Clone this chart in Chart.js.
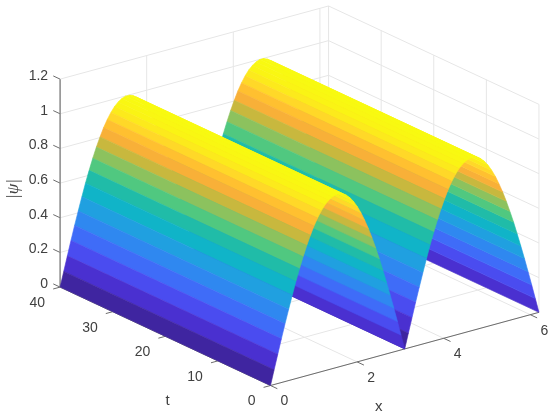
<!DOCTYPE html>
<html>
<head>
<meta charset="utf-8">
<title>Surface</title>
<script src="https://cdn.jsdelivr.net/npm/chart.js@4"></script>
<style>
  html, body { margin: 0; padding: 0; background: #fff; }
  #wrap { width: 550px; height: 419px; }
  canvas { display: block; }
</style>
</head>
<body>
<div id="wrap"><canvas id="chart"></canvas></div>
<script>
const xValues = [0, 0.084, 0.168, 0.251, 0.335, 0.419, 0.503, 0.586, 0.67, 0.754, 0.838, 0.922, 1.005, 1.089, 1.173, 1.257,
  1.341, 1.424, 1.508, 1.592, 1.676, 1.759, 1.843, 1.927, 2.011, 2.095, 2.178, 2.262, 2.346, 2.43, 2.514, 2.597,
  2.681, 2.765, 2.849, 2.932, 3.016, 3.1,
  3.184, 3.268, 3.351, 3.435, 3.519, 3.603, 3.686, 3.77, 3.854, 3.938, 4.022, 4.105, 4.189, 4.273, 4.357, 4.441,
  4.524, 4.608, 4.692, 4.776, 4.859, 4.943, 5.027, 5.111, 5.195, 5.278, 5.362, 5.446, 5.53, 5.614, 5.697, 5.781,
  5.865, 5.949, 6.033, 6.116, 6.2];
const psiValues = [0, 0.085, 0.169, 0.252, 0.333, 0.411, 0.487, 0.56, 0.628, 0.692, 0.751, 0.804, 0.852, 0.893, 0.928, 0.956,
  0.977, 0.991, 0.999, 0.999, 0.991, 0.977, 0.956, 0.928, 0.893, 0.852, 0.804, 0.751, 0.692, 0.628, 0.56, 0.487,
  0.411, 0.333, 0.252, 0.169, 0.085, 0,
  0.085, 0.169, 0.252, 0.333, 0.411, 0.487, 0.56, 0.628, 0.692, 0.751, 0.804, 0.852, 0.893, 0.928, 0.956, 0.977,
  0.991, 0.999, 0.999, 0.991, 0.977, 0.956, 0.928, 0.893, 0.852, 0.804, 0.751, 0.692, 0.628, 0.56, 0.487, 0.411,
  0.333, 0.252, 0.169, 0.085, 0];
const tRange = [0, 40];
const xMax = 6.2;
const xTicks = [0, 2, 4, 6];
const tTicks = [0, 10, 20, 30, 40];
const zTicks = [0, 0.2, 0.4, 0.6, 0.8, 1, 1.2];

// colour levels of the surface
const levels = [0, 0.085, 0.169, 0.252, 0.333, 0.411, 0.487, 0.56, 0.628, 0.692, 0.751, 0.804, 0.852, 0.893, 0.928, 0.956, 1];
const levelColors = [[63,37,160], [74,48,208], [74,76,240], [63,108,248], [47,136,240], [32,160,224],
  [16,180,200], [32,188,168], [80,200,128], [140,194,94], [200,184,62], [248,176,56], [255,192,48],
  [255,216,40], [252,234,28], [250,244,20], [248,250,16]];

function colorFor(v) {
  let i = 0;
  while (i < levels.length - 2 && v > levels[i + 1]) i++;
  const f = Math.min(1, (v - levels[i]) / (levels[i + 1] - levels[i]));
  const c = levelColors[i].map((a, k) => Math.round(a + (levelColors[i + 1][k] - a) * f));
  return `rgb(${c[0]},${c[1]},${c[2]})`;
}

// view of the 3d box: front corner plus one step per unit of x, t and z
function project(x, t, z) {
  return {
    x: 270.5 + 43.3 * x - 5.26 * t,
    y: 385.5 - 11.8 * x - 2.46 * t - 173.3 * z
  };
}

function seg(a, b, color, width) {
  return {
    data: [project(...a), project(...b)],
    showLine: true,
    fill: false,
    borderColor: color,
    borderWidth: width
  };
}

const datasets = [];

// nearest strip first: chart.js paints the first dataset on top
for (let i = 0; i < xValues.length - 1; i++) {
  const c = colorFor(psiValues[i]);
  const [t0, t1] = tRange;
  datasets.push({
    data: [
      project(xValues[i], t0, psiValues[i]),
      project(xValues[i + 1], t0, psiValues[i + 1]),
      project(xValues[i + 1], t1, psiValues[i + 1]),
      project(xValues[i], t1, psiValues[i]),
      project(xValues[i], t0, psiValues[i])
    ],
    showLine: true,
    fill: 'shape',
    backgroundColor: c,
    borderColor: c,
    borderWidth: 0.6
  });
}

// axis rulers and tick marks
const axisColor = '#6c6c6c';
datasets.push(seg([0, 0, 0], [xMax, 0, 0], axisColor, 1));
datasets.push(seg([0, 0, 0], [0, 40, 0], axisColor, 1));
datasets.push(seg([0, 40, 0], [0, 40, 1.2], '#858585', 1.4));
xTicks.forEach(v => datasets.push(seg([v, 0, 0], [v, -1.3, 0], axisColor, 1)));
tTicks.forEach(v => datasets.push(seg([0, v, 0], [-0.16, v, 0], axisColor, 1)));
zTicks.forEach(v => datasets.push(seg([0, 40, v], [0, 41.3, v], axisColor, 1)));

// grid on the floor and the two back walls
const gridColor = '#e6e6e6';
xTicks.forEach(v => {
  datasets.push(seg([v, 0, 0], [v, 40, 0], gridColor, 1));
  datasets.push(seg([v, 40, 0], [v, 40, 1.2], gridColor, 1));
});
tTicks.forEach(v => {
  datasets.push(seg([0, v, 0], [xMax, v, 0], gridColor, 1));
  datasets.push(seg([xMax, v, 0], [xMax, v, 1.2], gridColor, 1));
});
zTicks.forEach(v => {
  datasets.push(seg([0, 40, v], [xMax, 40, v], gridColor, 1));
  datasets.push(seg([xMax, 0, v], [xMax, 40, v], gridColor, 1));
});

const axisText = {
  id: 'axisText',
  afterDraw(chart) {
    const { ctx, scales } = chart;
    const put = (label, p, dx, dy, align) => {
      ctx.textAlign = align;
      ctx.fillText(label, scales.x.getPixelForValue(p.x) + dx, scales.y.getPixelForValue(p.y) + dy);
    };
    ctx.save();
    ctx.font = '14px "Liberation Sans"';
    ctx.fillStyle = '#404040';
    ctx.textBaseline = 'middle';
    xTicks.forEach(v => put(String(v), project(v, 0, 0), 14, 16, 'center'));
    tTicks.forEach(v => put(String(v), project(0, v, 0), -15, 16, 'right'));
    zTicks.forEach(v => put(String(v), project(0, 40, v), -12, -3, 'right'));
    ctx.font = '15px "Liberation Sans"';
    put('x', project(2.5, 0, 0), 0, 51, 'center');
    put('t', project(0, 0, 0), -103, 15, 'center');
    ctx.translate(14, 189);
    ctx.rotate(-Math.PI / 2);
    ctx.font = 'italic 17px "Liberation Serif"';
    ctx.textAlign = 'center';
    ctx.fillText('|ψ|', 0, 0);
    ctx.restore();
  }
};

new Chart(document.getElementById('chart').getContext('2d'), {
  type: 'scatter',
  data: { datasets },
  plugins: [axisText],
  options: {
    responsive: true,
    maintainAspectRatio: false,
    animation: false,
    layout: { padding: 0 },
    elements: { point: { radius: 0 }, line: { tension: 0 } },
    scales: {
      x: { type: 'linear', min: 0, max: 550, display: false },
      y: { type: 'linear', min: 0, max: 419, reverse: true, display: false }
    },
    plugins: {
      legend: { display: false },
      tooltip: { enabled: false }
    }
  }
});
</script>
</body>
</html>
